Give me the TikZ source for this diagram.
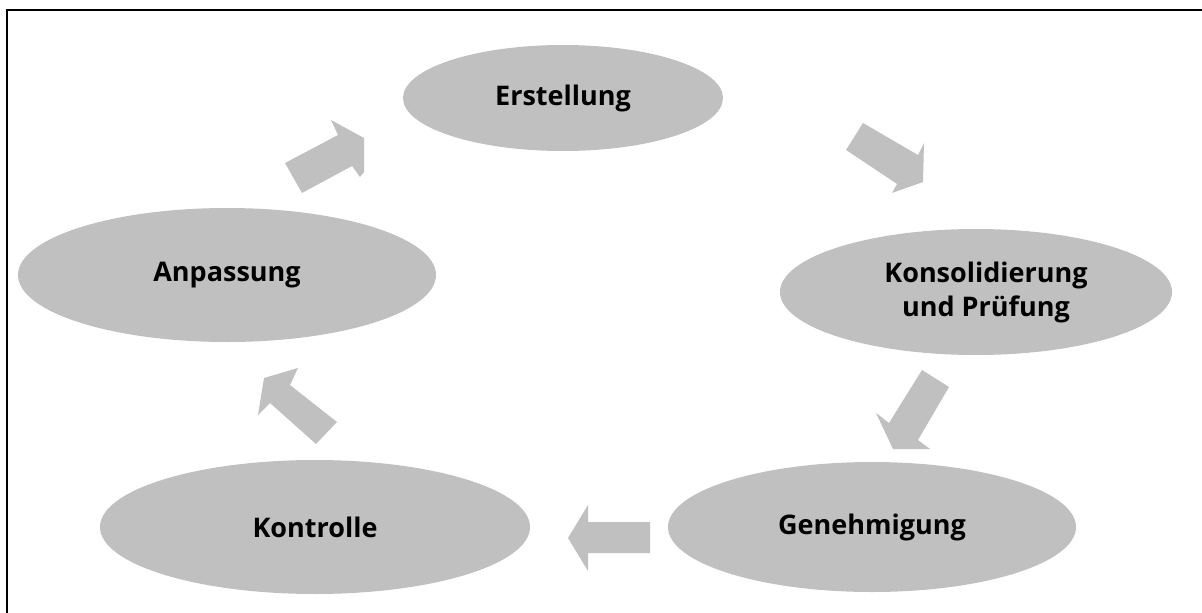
\documentclass[tikz,border=0pt]{standalone}
\usepackage{fontspec}
\setmainfont{Open Sans}
\usetikzlibrary{shapes.geometric}
\definecolor{cyclegray}{RGB}{192,192,192}
\begin{document}
\begin{tikzpicture}[x=1pt,y=-1pt,
  phase/.style={ellipse, fill=cyclegray, inner sep=0pt, font=\fontsize{27}{34}\selectfont\bfseries, align=center, text=black},
  blockarrow/.style={fill=cyclegray, draw=none}]
\useasboundingbox (0,0) rectangle (1202,613);
\draw[line width=2pt] (7,613) -- (7,10) -- (1202,10);
% phases
\node[phase, minimum width=320pt, minimum height=106pt] (erst) at (563,98) {Erstellung};
\node[phase, minimum width=418pt, minimum height=134pt] (anp) at (227,275) {Anpassung};
\node[phase, minimum width=392pt, minimum height=126pt] (kons) at (976,292) {\hspace*{20pt}Konsolidierung\\\hspace*{20pt}und Prüfung};
\node[phase, minimum width=430pt, minimum height=134pt] (kontr) at (315,527) {Kontrolle};
\node[phase, minimum width=408pt, minimum height=130pt] (gen) at (872,527) {Genehmigung};
% block arrows
\fill[blockarrow] (285,163) -- (338,135) -- (331,120) -- (364,138) -- (364,172) -- (360,177) -- (352,166) -- (302,193) -- cycle;
\fill[blockarrow] (863,123) -- (918,155) -- (924,143) -- (923,182) -- (892,193) -- (897,184) -- (846,150) -- cycle;
\fill[blockarrow] (922,370) -- (889,423) -- (876,413) -- (893,449) -- (930,449) -- (918,440) -- (949,387) -- cycle;
\fill[blockarrow] (650,522) -- (588,522) -- (588,505) -- (568,538) -- (588,571) -- (588,553) -- (650,553) -- cycle;
\fill[blockarrow] (258,415) -- (264,378) -- (298,368) -- (290,385) -- (337,422) -- (316,444) -- (270,403) -- cycle;
\end{tikzpicture}
\end{document}
